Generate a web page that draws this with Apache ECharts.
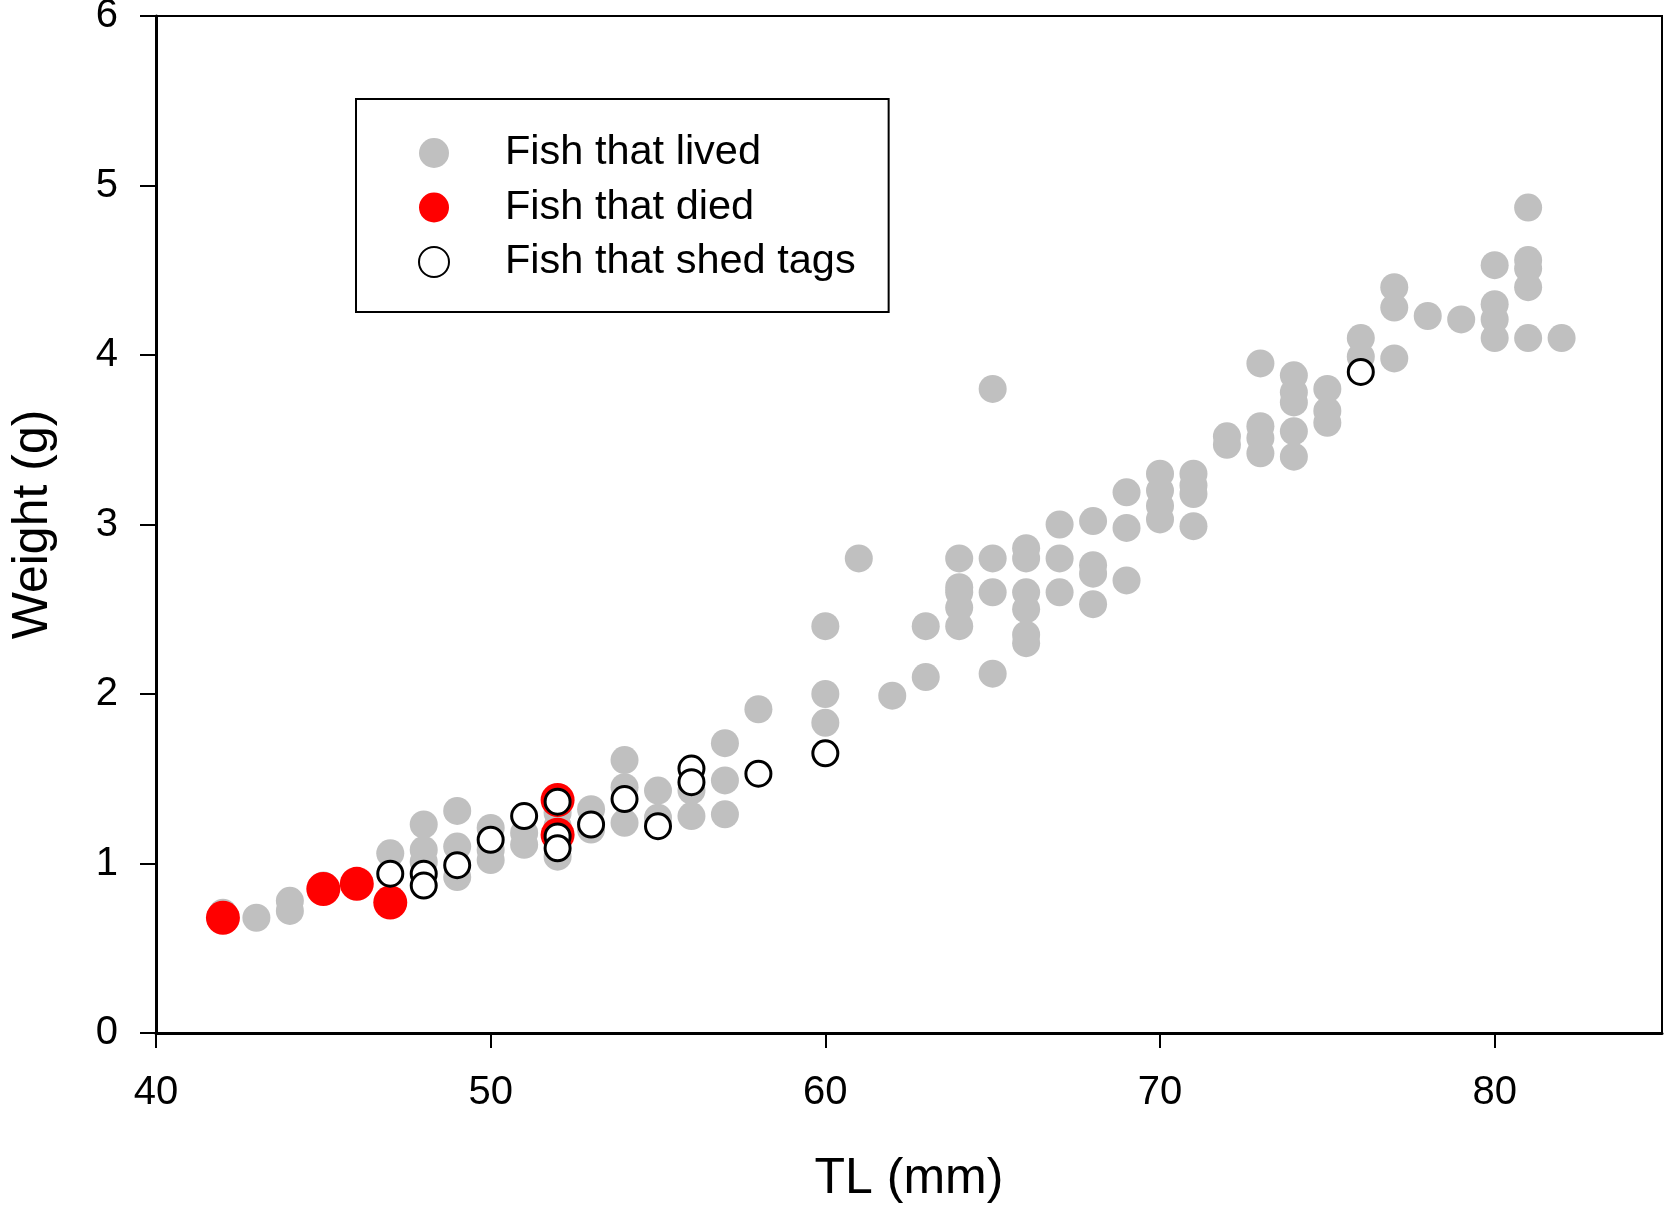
<!DOCTYPE html>
<html>
<head>
<meta charset="utf-8">
<script src="https://cdn.jsdelivr.net/npm/echarts@6/dist/echarts.min.js"></script>
<style>
  html, body { margin: 0; padding: 0; background: #fff; }
  #chart { width: 1665px; height: 1205px; }
</style>
</head>
<body>
<div id="chart"></div>
<script>
// ---- Data (TL in mm, weight in g) ----
const seriesNames = ['Fish that lived', 'Fish that died', 'Fish that shed tags'];

const livedTL = [
  42, 43, 44, 44, 45, 47,
  48, 48, 48, 49, 49, 49, 50, 50, 50, 51, 51, 52, 52, 52,
  53, 53, 54, 54, 54, 55, 55, 56, 56, 57, 57, 57, 58,
  60, 60, 60, 61, 62, 63, 63,
  64, 64, 64, 64, 64, 65, 65, 65, 65, 66, 66, 66, 66, 66, 66,
  67, 67, 67, 68, 68, 68, 68, 69, 69, 69,
  70, 70, 70, 70, 71, 71, 71, 71, 72, 72,
  73, 73, 73, 73, 74, 74, 74, 74, 74, 75, 75, 75,
  76, 76, 77, 77, 77, 78, 79,
  80, 80, 80, 80, 81, 81, 81, 81, 81, 82
];
const livedW = [
  0.71, 0.68, 0.78, 0.72, 0.87, 1.06,
  1.23, 1.08, 1.01, 1.31, 1.10, 0.92, 1.21, 1.08, 1.02, 1.18, 1.11, 1.30, 1.22, 1.04,
  1.32, 1.20, 1.61, 1.45, 1.24, 1.43, 1.27, 1.43, 1.28, 1.71, 1.49, 1.29, 1.91,
  2.40, 2.00, 1.83, 2.80, 1.99, 2.40, 2.10,
  2.80, 2.63, 2.60, 2.51, 2.40, 3.80, 2.80, 2.60, 2.12, 2.86, 2.80, 2.60, 2.50, 2.35, 2.30,
  3.00, 2.80, 2.60, 3.02, 2.76, 2.71, 2.53, 3.19, 2.98, 2.67,
  3.30, 3.20, 3.11, 3.03, 3.30, 3.23, 3.18, 2.99, 3.52, 3.47,
  3.95, 3.58, 3.51, 3.42, 3.88, 3.78, 3.72, 3.55, 3.40, 3.80, 3.67, 3.60,
  4.10, 3.99, 4.40, 4.28, 3.98, 4.23, 4.21,
  4.53, 4.30, 4.21, 4.10, 4.87, 4.56, 4.51, 4.40, 4.10, 4.10
];

const diedTL = [42, 45, 46, 47, 52, 52];
const diedW  = [0.68, 0.85, 0.88, 0.77, 1.375, 1.17];

const shedTL = [47, 48, 48, 49, 50, 51, 52, 52, 52, 53, 54, 55, 56, 56, 58, 60, 76];
const shedW  = [0.94, 0.94, 0.87, 0.99, 1.14, 1.28, 1.365, 1.16, 1.09, 1.23, 1.38, 1.22, 1.56, 1.48, 1.53, 1.65, 3.90];

const xTicks = [40, 50, 60, 70, 80];

// ---- Chart ----
function pairs(xs, ys) { return xs.map((x, i) => [x, ys[i]]); }

const FONT = '"Liberation Sans", Arial, Helvetica, sans-serif';
const chart = echarts.init(document.getElementById('chart'), null, { renderer: 'canvas' });

chart.setOption({
  animation: false,
  backgroundColor: '#ffffff',
  textStyle: { fontFamily: FONT, color: '#000' },
  grid: {
    left: 156, top: 16, right: 3, bottom: 172,
    containLabel: false,
    outerBoundsMode: 'none',
    show: true, borderColor: '#000', borderWidth: 2, backgroundColor: 'transparent'
  },
  legend: {
    data: seriesNames,
    orient: 'vertical',
    left: 356, top: 99,
    padding: [33, 33, 29, 62],
    itemGap: 12.5,
    itemWidth: 30, itemHeight: 30,
    borderColor: '#000', borderWidth: 2,
    selectedMode: false,
    textStyle: { fontFamily: FONT, fontSize: 41.5, lineHeight: 41, color: '#000', padding: [0, 0, 0, 51] }
  },
  xAxis: {
    type: 'value',
    min: 40, max: 85, interval: 10,
    name: 'TL (mm)', nameLocation: 'middle', nameGap: 121,
    nameTextStyle: { fontFamily: FONT, fontSize: 50, color: '#000' },
    splitLine: { show: false },
    axisLine: { show: true, onZero: false, lineStyle: { color: '#000', width: 3 } },
    axisTick: { show: true, inside: false, length: 15, lineStyle: { color: '#000', width: 2 }, customValues: xTicks },
    axisLabel: { fontFamily: FONT, fontSize: 40, color: '#000', margin: 40, customValues: xTicks }
  },
  yAxis: {
    type: 'value',
    min: 0, max: 6, interval: 1,
    name: 'Weight (g)', nameLocation: 'middle', nameGap: 98, nameRotate: 90,
    nameTextStyle: { fontFamily: FONT, fontSize: 50, color: '#000' },
    splitLine: { show: false },
    axisLine: { show: true, onZero: false, lineStyle: { color: '#000', width: 3 } },
    axisTick: { show: true, inside: false, length: 16, lineStyle: { color: '#000', width: 2 } },
    axisLabel: { fontFamily: FONT, fontSize: 40, color: '#000', margin: 38 }
  },
  series: [
    {
      name: seriesNames[0], type: 'scatter', symbol: 'circle', symbolSize: 28,
      itemStyle: { color: '#c0c0c0', opacity: 1 },
      emphasis: { disabled: true },
      data: pairs(livedTL, livedW), z: 2
    },
    {
      name: seriesNames[1], type: 'scatter', symbol: 'circle', symbolSize: 34,
      itemStyle: { color: '#ff0000', opacity: 1 },
      emphasis: { disabled: true },
      data: pairs(diedTL, diedW), z: 3
    },
    {
      name: seriesNames[2], type: 'scatter', symbol: 'circle', symbolSize: 25,
      itemStyle: { color: '#ffffff', borderColor: '#000', borderWidth: 3, opacity: 1 },
      emphasis: { disabled: true },
      data: pairs(shedTL, shedW), z: 4
    }
  ]
});
</script>
</body>
</html>
